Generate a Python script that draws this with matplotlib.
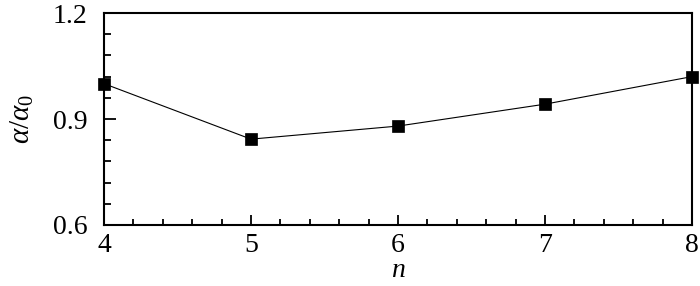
import matplotlib
matplotlib.use("Agg")
import matplotlib.pyplot as plt
from matplotlib.ticker import MultipleLocator

plt.rcParams['font.family'] = ['Liberation Serif', 'DejaVu Serif']
plt.rcParams['mathtext.fontset'] = 'custom'
plt.rcParams['mathtext.rm'] = 'Liberation Serif'
plt.rcParams['mathtext.it'] = 'Liberation Serif:italic'

n_values = [4, 5, 6, 7, 8]
alpha_ratio = [1.0, 0.843, 0.88, 0.942, 1.02]
x_ticks = [4, 5, 6, 7, 8]
y_ticks = [0.6, 0.9, 1.2]
y_tick_labels = ['0.6', '0.9', '1.2']

fig = plt.figure(figsize=(7, 2.86), dpi=100)
ax = fig.add_axes([0.1486, 0.2133, 0.84, 0.7412])

ax.plot(n_values, alpha_ratio, color='black', linewidth=0.8,
        marker='s', markersize=8.5, markerfacecolor='black',
        markeredgecolor='black', markeredgewidth=0.5, clip_on=False, zorder=3)

ax.set_xlim(4, 8)
ax.set_ylim(0.6, 1.2)
ax.set_xticks(x_ticks)
ax.set_xticklabels([str(v) for v in x_ticks])
ax.set_yticks(y_ticks)
ax.set_yticklabels(y_tick_labels)
ax.xaxis.set_minor_locator(MultipleLocator(0.2))
ax.yaxis.set_minor_locator(MultipleLocator(0.06))

for s in ax.spines.values():
    s.set_linewidth(1.5)

ax.tick_params(axis='both', which='both', direction='in', top=False, right=False,
               labelsize=20, width=1.3)
ax.tick_params(axis='y', which='major', length=8.5, pad=12)
ax.tick_params(axis='y', which='minor', length=5)
ax.tick_params(axis='x', which='major', length=7, pad=6)
ax.tick_params(axis='x', which='minor', length=4)

ax.set_xlabel(r'$n$', fontsize=20, labelpad=0)
ax.set_ylabel(r'$\alpha/\alpha_0$', fontsize=21, labelpad=12)

fig.savefig('out.png', dpi=100)
